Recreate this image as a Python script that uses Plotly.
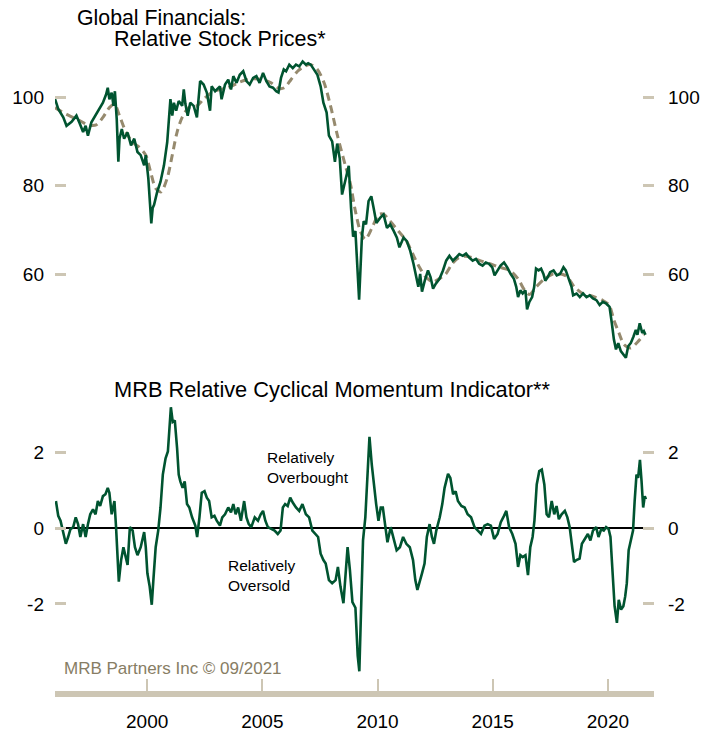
import plotly.graph_objects as go

# ---------------- data ----------------
price_years = [1996.00, 1996.14, 1996.36, 1996.50, 1996.72, 1996.93, 1997.07, 1997.22, 1997.33, 1997.43,
               1997.58, 1997.79, 1997.93, 1998.08, 1998.22, 1998.29, 1998.36, 1998.46, 1998.54, 1998.60,
               1998.68, 1998.75, 1998.80, 1998.90, 1999.00, 1999.15, 1999.30, 1999.44, 1999.58, 1999.72,
               1999.87, 1999.94, 2000.05, 2000.12, 2000.18, 2000.24, 2000.30, 2000.44, 2000.58, 2000.73,
               2000.87, 2001.01, 2001.09, 2001.16, 2001.26, 2001.37, 2001.52, 2001.59, 2001.66, 2001.76,
               2001.87, 2002.02, 2002.16, 2002.30, 2002.45, 2002.59, 2002.73, 2002.80, 2002.95, 2003.16,
               2003.23, 2003.38, 2003.52, 2003.64, 2003.74, 2003.88, 2004.02, 2004.17, 2004.31, 2004.45,
               2004.60, 2004.74, 2004.88, 2005.03, 2005.17, 2005.31, 2005.46, 2005.60, 2005.70, 2005.81,
               2005.93, 2006.03, 2006.17, 2006.32, 2006.46, 2006.60, 2006.75, 2006.89, 2006.99, 2007.10,
               2007.25, 2007.39, 2007.53, 2007.65, 2007.79, 2007.89, 2008.03, 2008.15, 2008.25, 2008.36,
               2008.46, 2008.60, 2008.75, 2008.85, 2008.94, 2009.04, 2009.14, 2009.20, 2009.25, 2009.32,
               2009.40, 2009.50, 2009.61, 2009.73, 2009.83, 2009.95, 2010.12, 2010.26, 2010.41, 2010.55,
               2010.70, 2010.84, 2010.95, 2011.13, 2011.27, 2011.42, 2011.56, 2011.70, 2011.77, 2011.85,
               2011.93, 2012.05, 2012.19, 2012.30, 2012.41, 2012.53, 2012.69, 2012.84, 2012.98, 2013.12,
               2013.27, 2013.41, 2013.55, 2013.70, 2013.84, 2013.98, 2014.13, 2014.27, 2014.41, 2014.56,
               2014.70, 2014.84, 2014.98, 2015.08, 2015.20, 2015.34, 2015.49, 2015.63, 2015.78, 2015.92,
               2016.02, 2016.10, 2016.20, 2016.30, 2016.42, 2016.49, 2016.59, 2016.71, 2016.80, 2016.88,
               2016.99, 2017.10, 2017.20, 2017.28, 2017.39, 2017.49, 2017.64, 2017.78, 2017.92, 2018.07,
               2018.17, 2018.28, 2018.42, 2018.49, 2018.64, 2018.78, 2018.92, 2019.07, 2019.21, 2019.35,
               2019.50, 2019.64, 2019.78, 2019.93, 2020.07, 2020.17, 2020.26, 2020.35, 2020.45, 2020.56,
               2020.68, 2020.78, 2020.88, 2020.99, 2021.11, 2021.21, 2021.28, 2021.38, 2021.49, 2021.56,
               2021.63]
price_vals = [99.6, 97.3, 95.4, 93.5, 94.4, 95.8, 94.1, 92.1, 93.5, 91.3,
              94.3, 96.1, 97.3, 98.7, 100.6, 102.1, 99.5, 101.0, 98.0, 101.3,
              95.0, 85.4, 90.6, 92.8, 90.6, 92.0, 89.1, 90.6, 87.6, 86.9,
              84.6, 86.9, 81.7, 76.0, 71.5, 75.0, 75.7, 78.7, 80.9, 84.6,
              89.8, 99.5, 95.8, 98.7, 96.9, 99.1, 98.0, 101.7, 98.4, 95.8,
              98.7, 98.0, 95.4, 103.6, 102.8, 101.0, 96.9, 102.4, 101.3, 102.4,
              99.5, 102.8, 103.9, 101.7, 104.7, 103.2, 105.0, 105.8, 103.6, 102.8,
              104.3, 104.7, 103.2, 105.4, 103.6, 102.4, 102.1, 101.3, 101.0, 104.3,
              106.2, 105.8, 107.3, 106.5, 107.3, 106.9, 108.0, 107.3, 107.6, 107.3,
              106.2, 105.0, 102.4, 98.7, 96.5, 91.3, 90.0, 85.4, 89.5, 86.1,
              78.0, 81.5, 84.5, 75.0, 68.5, 69.8, 60.1, 54.3, 60.1, 68.3,
              72.0, 71.3, 76.5, 77.6, 75.0, 71.6, 72.8, 73.5, 70.5, 71.3,
              69.8, 68.3, 66.1, 68.3, 67.5, 65.3, 62.4, 59.4, 57.2, 60.1,
              56.1, 58.6, 60.9, 59.4, 56.8, 57.9, 59.0, 60.9, 63.1, 64.2,
              63.1, 63.8, 64.6, 64.2, 64.7, 63.8, 63.1, 63.5, 62.4, 62.0,
              62.7, 62.4, 61.6, 59.8, 60.9, 62.0, 62.7, 61.6, 60.1, 59.0,
              57.2, 54.9, 56.4, 55.7, 56.4, 52.1, 53.8, 54.9, 57.2, 61.3,
              60.9, 61.3, 60.1, 58.6, 59.4, 60.5, 60.9, 59.8, 60.1, 61.6,
              60.9, 59.4, 57.2, 55.3, 55.7, 54.9, 55.7, 54.9, 55.3, 54.6,
              54.2, 53.1, 53.8, 53.4, 52.7, 49.0, 45.3, 43.1, 44.5, 42.7,
              41.9, 41.2, 43.8, 44.5, 46.0, 47.5, 46.4, 49.0, 46.8, 47.2,
              46.4]

ma_years = [1996.00, 1996.50, 1997.07, 1997.43, 1997.79, 1998.08, 1998.36, 1998.58, 1998.80, 1999.08,
            1999.37, 1999.65, 1999.94, 2000.15, 2000.37, 2000.60, 2000.87, 2001.09, 2001.30, 2001.52,
            2001.80, 2002.16, 2002.45, 2002.80, 2003.16, 2003.52, 2003.95, 2004.31, 2004.67, 2005.03,
            2005.38, 2005.74, 2005.96, 2006.24, 2006.53, 2006.82, 2007.10, 2007.39, 2007.68, 2007.96,
            2008.25, 2008.60, 2008.82, 2009.03, 2009.25, 2009.47, 2009.76, 2010.05, 2010.26, 2010.55,
            2010.90, 2011.25, 2011.53, 2011.82, 2012.10, 2012.39, 2012.67, 2012.96, 2013.24, 2013.53,
            2013.81, 2014.10, 2014.45, 2014.88, 2015.31, 2015.74, 2016.10, 2016.39, 2016.60, 2016.89,
            2017.25, 2017.61, 2017.97, 2018.25, 2018.54, 2018.90, 2019.33, 2019.76, 2020.05, 2020.26,
            2020.48, 2020.70, 2020.99, 2021.28, 2021.56]
ma_vals = [97.6, 96.1, 94.7, 93.7, 93.7, 95.4, 97.6, 98.4, 95.8, 92.1,
           89.8, 88.7, 86.9, 83.1, 79.4, 78.6, 81.7, 86.9, 92.1, 95.4,
           97.6, 98.0, 99.5, 101.0, 101.7, 102.1, 103.2, 103.9, 104.1, 103.9,
           103.2, 101.9, 102.1, 103.9, 105.8, 106.9, 107.3, 106.2, 103.2, 98.0,
           91.5, 84.6, 80.5, 74.5, 69.8, 67.9, 70.5, 73.5, 73.6, 72.0,
           69.8, 67.6, 64.6, 61.6, 59.4, 58.3, 59.0, 60.1, 62.4, 63.8,
           64.1, 63.8, 63.1, 62.4, 61.6, 60.9, 59.0, 56.4, 55.5, 57.2,
           59.0, 60.1, 60.1, 59.4, 57.2, 55.7, 55.1, 54.2, 53.1, 49.7,
           46.8, 44.2, 43.4, 44.7, 46.4]

mom_years = [1996.04, 1996.14, 1996.24, 1996.36, 1996.47, 1996.57, 1996.67, 1996.79, 1996.90, 1997.00,
             1997.10, 1997.22, 1997.33, 1997.43, 1997.53, 1997.65, 1997.76, 1997.86, 1997.96, 1998.08,
             1998.19, 1998.29, 1998.36, 1998.46, 1998.58, 1998.65, 1998.72, 1998.77, 1998.87, 1998.97,
             1999.05, 1999.15, 1999.25, 1999.37, 1999.47, 1999.58, 1999.72, 1999.87, 1999.94, 2000.01,
             2000.11, 2000.20, 2000.27, 2000.37, 2000.48, 2000.58, 2000.68, 2000.80, 2000.90, 2000.97,
             2001.03, 2001.11, 2001.20, 2001.30, 2001.37, 2001.44, 2001.54, 2001.63, 2001.73, 2001.83,
             2001.95, 2002.09, 2002.17, 2002.27, 2002.37, 2002.49, 2002.59, 2002.69, 2002.80, 2002.92,
             2003.02, 2003.16, 2003.26, 2003.38, 2003.52, 2003.64, 2003.74, 2003.84, 2003.95, 2004.07,
             2004.21, 2004.31, 2004.41, 2004.52, 2004.67, 2004.81, 2004.93, 2005.03, 2005.13, 2005.24,
             2005.38, 2005.53, 2005.67, 2005.79, 2005.89, 2005.99, 2006.10, 2006.21, 2006.32, 2006.46,
             2006.60, 2006.74, 2006.89, 2007.03, 2007.17, 2007.32, 2007.42, 2007.53, 2007.65, 2007.75,
             2007.89, 2008.03, 2008.18, 2008.28, 2008.39, 2008.52, 2008.62, 2008.70, 2008.80, 2008.91,
             2009.04, 2009.14, 2009.21, 2009.28, 2009.37, 2009.47, 2009.57, 2009.65, 2009.75, 2009.85,
             2009.94, 2010.04, 2010.14, 2010.23, 2010.33, 2010.43, 2010.57, 2010.68, 2010.83, 2010.97,
             2011.11, 2011.25, 2011.40, 2011.54, 2011.64, 2011.73, 2011.83, 2011.93, 2012.04, 2012.14,
             2012.26, 2012.36, 2012.45, 2012.55, 2012.70, 2012.81, 2012.91, 2013.06, 2013.16, 2013.28,
             2013.39, 2013.49, 2013.64, 2013.78, 2013.91, 2014.06, 2014.21, 2014.35, 2014.49, 2014.64,
             2014.78, 2014.92, 2015.06, 2015.21, 2015.35, 2015.49, 2015.59, 2015.71, 2015.85, 2015.99,
             2016.10, 2016.20, 2016.30, 2016.42, 2016.53, 2016.63, 2016.73, 2016.81, 2016.91, 2017.02,
             2017.13, 2017.24, 2017.34, 2017.44, 2017.56, 2017.67, 2017.77, 2017.87, 2017.99, 2018.13,
             2018.24, 2018.34, 2018.44, 2018.53, 2018.63, 2018.77, 2018.87, 2018.99, 2019.13, 2019.24,
             2019.35, 2019.49, 2019.59, 2019.71, 2019.82, 2019.92, 2020.03, 2020.11, 2020.21, 2020.29,
             2020.39, 2020.47, 2020.57, 2020.67, 2020.75, 2020.82, 2020.90, 2020.99, 2021.09, 2021.16,
             2021.24, 2021.31, 2021.39, 2021.46, 2021.53, 2021.60, 2021.65]
mom_vals = [0.72, 0.33, 0.20, -0.15, -0.41, -0.23, -0.02, 0.03, 0.29, 0.11,
            -0.23, 0.11, -0.23, 0.11, 0.37, 0.50, 0.37, 0.72, 0.59, 0.85,
            0.90, 1.07, 0.94, 0.37, 0.72, 0.03, -0.84, -1.41, -0.84, -0.50,
            -0.71, -0.97, 0.03, -0.06, -0.50, -0.71, -0.50, -0.10, -0.50, -1.19,
            -1.54, -2.02, -1.37, -0.50, -0.06, 0.55, 1.42, 1.85, 2.03, 2.81,
            3.20, 2.81, 2.85, 2.11, 1.42, 1.24, 1.07, 1.24, 0.64, 0.55,
            0.29, 0.07, -0.23, 0.29, 0.94, 0.98, 0.81, 0.72, 0.29, 0.33,
            0.20, 0.07, 0.29, 0.37, 0.55, 0.42, 0.64, 0.37, 0.55, 0.20,
            0.72, 0.29, 0.11, 0.03, 0.29, 0.20, 0.37, 0.46, 0.20, 0.03,
            -0.02, -0.06, -0.15, -0.06, 0.55, 0.64, 0.59, 0.81, 0.68, 0.55,
            0.46, 0.64, 0.37, 0.29, -0.06, -0.15, -0.23, -0.67, -0.84, -0.93,
            -1.37, -1.45, -1.37, -1.02, -1.54, -1.98, -1.19, -0.50, -1.10, -1.95,
            -2.10, -3.37, -3.78, -2.06, -0.32, 0.29, 1.42, 2.42, 1.68, 1.07,
            0.64, 0.20, 0.55, 0.55, 0.03, -0.37, 0.03, -0.23, -0.58, -0.50,
            -0.23, -0.41, -0.50, -0.84, -1.37, -1.63, -1.37, -1.19, -0.93, -0.23,
            0.11, -0.23, -0.41, -0.06, 0.29, 0.64, 1.07, 1.44, 1.33, 0.90,
            0.98, 0.72, 0.59, 0.55, 0.37, 0.29, 0.03, -0.06, -0.15, 0.07,
            0.11, 0.07, -0.28, -0.15, 0.16, 0.33, 0.46, 0.03, -0.15, -0.41,
            -1.02, -0.71, -0.76, -0.71, -1.24, -0.50, -0.23, 0.20, 1.16, 1.51,
            1.55, 1.16, 0.37, 0.29, 0.72, 0.37, 0.59, 0.24, 0.37, 0.46,
            0.29, 0.03, -0.50, -0.89, -0.84, -0.80, -0.41, -0.28, -0.15, -0.32,
            -0.06, 0.03, -0.23, -0.02, -0.06, 0.03, -0.02, -0.23, -1.19, -2.06,
            -2.50, -1.89, -2.15, -2.06, -1.80, -1.45, -0.58, -0.37, -0.06, 0.72,
            1.42, 1.33, 1.81, 1.24, 0.55, 0.85, 0.77]

year_ticks = [2000, 2005, 2010, 2015, 2020]
price_ticks = [60, 80, 100]
mom_ticks = [-2, 0, 2]
mom_tick_text = ["-2", "0", "2"]

# ---------------- styling / layout ----------------
W, H = 712, 744
PL, PR = 55, 660          # plot area left / right (px)
PT, PB = 40, 699          # plot area top / bottom (px)
PH = PB - PT

GREEN = "#005430"
TAN_DASH = "#968a6e"
TAN = "#cdc6b4"
NOTE = "#877d64"
FONT = "Liberation Sans, Arial, sans-serif"

def py2paper(py):
    return (PB - py) / PH

def px2paper(px):
    return (px - PL) / (PR - PL)

# top panel: value 100 at 97.7px, 4.49 px per unit
top_pix = (40, 372)
top_range = [100 - (top_pix[1] - 97.7) / 4.49, 100 + (97.7 - top_pix[0]) / 4.49]
# bottom panel: value 0 at 534.3px, 38.3 px per unit
bot_pix = (395, PB)
bot_range = [(534.3 - bot_pix[1]) / 38.3, (534.3 - bot_pix[0]) / 38.3]

fig = go.Figure()
fig.add_trace(go.Scatter(x=ma_years, y=ma_vals, xaxis="x2", yaxis="y",
                         mode="lines", line=dict(color=TAN_DASH, width=3, dash="8px,5px",
                                                 shape="spline", smoothing=0.8),
                         hoverinfo="skip", showlegend=False))
fig.add_trace(go.Scatter(x=price_years, y=price_vals, xaxis="x2", yaxis="y",
                         mode="lines", line=dict(color=GREEN, width=2.6),
                         hoverinfo="skip", showlegend=False))
fig.add_trace(go.Scatter(x=mom_years, y=mom_vals, xaxis="x", yaxis="y2",
                         mode="lines", line=dict(color=GREEN, width=2.6),
                         hoverinfo="skip", showlegend=False))
# invisible traces so the right-hand axes are drawn
fig.add_trace(go.Scatter(x=price_years[:1], y=price_vals[:1], xaxis="x2", yaxis="y3",
                         mode="markers", marker=dict(opacity=0), hoverinfo="skip", showlegend=False))
fig.add_trace(go.Scatter(x=mom_years[:1], y=mom_vals[:1], xaxis="x", yaxis="y4",
                         mode="markers", marker=dict(opacity=0), hoverinfo="skip", showlegend=False))

tickfont = dict(family=FONT, size=19, color="#000000")
yax_common = dict(ticks="inside", ticklen=11, tickwidth=2.5, tickcolor=TAN,
                  showline=False, showgrid=False, zeroline=False, tickfont=tickfont,
                  fixedrange=True)

fig.update_layout(
    width=W, height=H,
    margin=dict(l=PL, r=W - PR, t=PT, b=H - PB),
    paper_bgcolor="white", plot_bgcolor="white",
    xaxis=dict(domain=[0, 1], anchor="y2", range=[1996, 2022], tickvals=year_ticks,
               ticks="inside", ticklen=12, tickwidth=1.5, tickcolor=TAN,
               showline=True, linecolor=TAN, linewidth=6,
               showgrid=False, zeroline=False, tickfont=tickfont, ticklabelstandoff=8),
    xaxis2=dict(domain=[0, 1], anchor="y", range=[1996, 2022], visible=False, matches="x"),
    yaxis=dict(domain=[py2paper(top_pix[1]), 1], anchor="x2", range=top_range,
               tickvals=price_ticks, side="left", ticklabelstandoff=10, **yax_common),
    yaxis3=dict(overlaying="y", anchor="x2", side="right", range=top_range,
                tickvals=price_ticks, ticklabelstandoff=13, **yax_common),
    yaxis2=dict(domain=[0, py2paper(bot_pix[0])], anchor="x", range=bot_range,
                tickvals=mom_ticks, ticktext=mom_tick_text, side="left",
                ticklabelstandoff=10,
                **{**yax_common, "zeroline": True}, zerolinecolor="#000000", zerolinewidth=1.6),
    yaxis4=dict(overlaying="y2", anchor="x", side="right", range=bot_range,
                tickvals=mom_ticks, ticktext=mom_tick_text, ticklabelstandoff=13, **yax_common),
)

def note(text, px, py, size, color="#000000"):
    fig.add_annotation(text=text, x=px2paper(px), y=py2paper(py), xref="paper", yref="paper",
                       xanchor="left", yanchor="middle", align="left", showarrow=False,
                       font=dict(family=FONT, size=size, color=color))

note("Global Financials:", 75, 17.6, 21.3)
note("Relative Stock Prices*", 113, 39.3, 21.5)
note("MRB Relative Cyclical Momentum Indicator**", 113, 394.3, 21.8)
note("Relatively<br>Overbought", 267, 472.6, 15.5)
note("Relatively<br>Oversold", 228, 582.1, 15.5)
note("MRB Partners Inc © 09/2021", 61.7, 676.7, 17, NOTE)

fig.write_html("out.html", config={"displayModeBar": False},
               post_script="document.body.style.margin='0';document.body.style.overflow='hidden';")
